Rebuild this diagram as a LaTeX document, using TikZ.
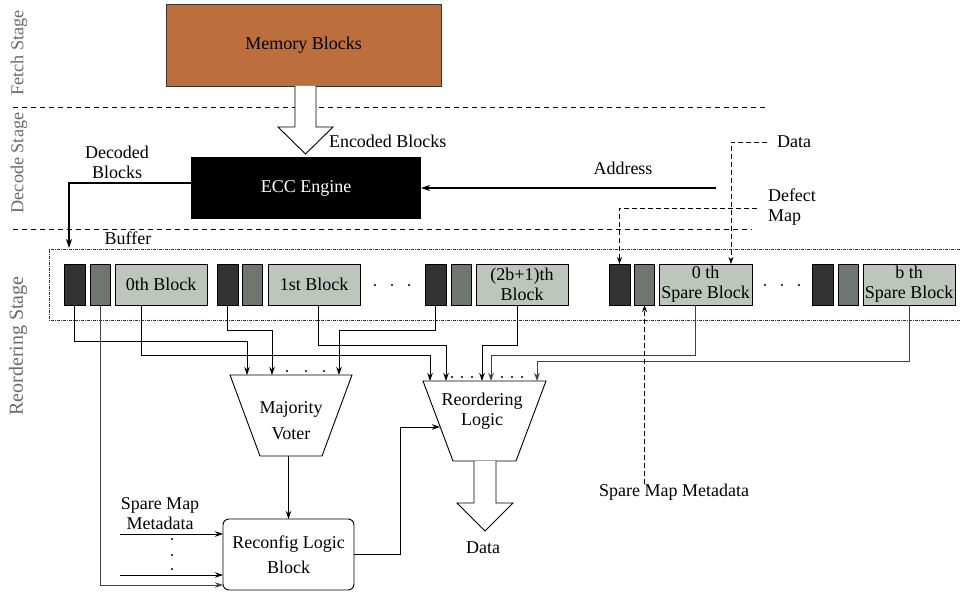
\documentclass[tikz,border=0pt]{standalone}
\usepackage{fontspec}
\setmainfont{Liberation Serif}
\usetikzlibrary{arrows.meta,calc}
\definecolor{membrown}{HTML}{BC6F3C}
\definecolor{blklight}{HTML}{BEC5BD}
\definecolor{blkgray}{HTML}{6F756F}
\definecolor{blkdark}{HTML}{333333}
\definecolor{stagegray}{HTML}{6A6A6A}
\begin{document}
\begin{tikzpicture}[x=1pt,y=-1pt,
  every node/.style={inner sep=0pt,outer sep=0pt,font=\fontsize{18}{20}\selectfont},
  txt/.style={align=center},
  stagelbl/.style={rotate=90,text=stagegray,font=\fontsize{18.2}{22}\selectfont},
  cellbase/.style={draw=black,line width=0.8pt,minimum height=41pt},
  darkcell/.style={cellbase,fill=blkdark,minimum width=21pt},
  graycell/.style={cellbase,fill=blkgray,minimum width=20pt},
  lightcell/.style={cellbase,fill=blklight,minimum width=92pt,align=center},
  conn/.style={line width=0.9pt,-{Stealth[length=8pt,width=5.5pt]}},
  gconn/.style={conn,draw=black!75},
  thickconn/.style={line width=1.8pt,-{Stealth[length=9pt,width=6pt]}},
  dconn/.style={line width=0.9pt,dash pattern=on 5pt off 3pt,-{Stealth[length=7pt,width=5pt]}},
  stagesep/.style={line width=0.9pt,dash pattern=on 5pt off 4pt},
  bufline/.style={line width=0.8pt,draw=black!80,dash pattern=on 3pt off 1pt on 1pt off 1pt},
  hollow/.style={draw=black,line width=0.9pt,fill=white,line join=miter},
  gate/.style={draw=black,line width=0.9pt,fill=white}]
\useasboundingbox (0,0) rectangle (960,593);

% stage labels and separators
\node[stagelbl] (fetchlbl) at (19,53) {Fetch Stage};
\node[stagelbl] (decodelbl) at (19,163) {Decode Stage};
\node[stagelbl,font=\fontsize{20}{22}\selectfont] (reordlbl) at (18,346) {Reordering Stage};
\coordinate (sepAl) at (13,107); \coordinate (sepAr) at (767,107);
\coordinate (sepBl) at (13,229); \coordinate (sepBr) at (752,229);
\draw[stagesep] (sepAl) -- (sepAr);
\draw[stagesep] (sepBl) -- (sepBr);

% memory and ECC
\node[draw=black!80,line width=0.8pt,fill=membrown,minimum width=275pt,minimum height=82pt] (mem) at (303.5,45) {Memory Blocks};
\node[fill=black,text=white,minimum width=230pt,minimum height=62pt] (ecc) at (306,188) {ECC Engine};
\coordinate (encT) at ([xshift=2pt]mem.south);
\draw[hollow] (encT) ++(-10.5,0) -- ++(0,41) -- ++(-17,0) -- ++(27.5,27) -- ++(27.5,-27) -- ++(-17,0) -- ++(0,-41);
\node[anchor=west] (enc) at (329,141) {Encoded Blocks};

% decoded blocks
\node[txt] (declbl) at (117,162) {Decoded\\Blocks};
\coordinate (buf) at (69,248);
\draw[thickconn] ([yshift=5pt]ecc.west) -| (buf);

% address
\node (addrlbl) at (623,168) {Address};
\coordinate (addr) at (716,188);
\draw[thickconn] (addr) -- (ecc.east);

% buffer
\node (buflbl) at (128,238) {Buffer};
\coordinate (bufTL) at (49,249); \coordinate (bufBL) at (49,320);
\coordinate (bufTR) at (960,249); \coordinate (bufBR) at (960,320);
\draw[bufline] (bufTR) -- (bufTL) -- (bufBL) -- (bufBR);

% cells
\node[darkcell] (d1) at (74.5,284.5) {};
\node[graycell] (g1) at (100,284.5) {};
\node[lightcell] (b0) at (161,284.5) {0th Block};
\node[darkcell] (d2) at (227.5,284.5) {};
\node[graycell] (g2) at (252.5,284.5) {};
\node[lightcell] (b1) at (314,284.5) {1st Block};
\node[darkcell] (d3) at (435.5,284.5) {};
\node[graycell] (g3) at (461,284.5) {};
\node[lightcell] (b2) at (522,284.5) {(2b+1)th\\Block};
\node[darkcell] (d4) at (619.5,284.5) {};
\node[graycell] (g4) at (644.5,284.5) {};
\node[lightcell,minimum width=93pt] (s0) at (705.5,284.5) {0 th\\Spare Block};
\node[darkcell] (d5) at (822.5,284.5) {};
\node[graycell] (g5) at (848,284.5) {};
\node[lightcell,minimum width=92pt] (s1) at (909,284.5) {b th\\Spare Block};
\foreach \x in {375,392,409} \fill (\x,285) circle (1.2pt);
\foreach \x in {765,782,799} \fill (\x,285) circle (1.2pt);

% data and defect map
\node[anchor=west] (datalbl) at (777,142) {Data};
\draw[dconn] ([xshift=-10pt]datalbl.west) -| ([xshift=25.5pt]s0.north);
\node[anchor=west,align=left] (dmlbl) at (768,207.5) {Defect\\Map};
\draw[dconn] ([xshift=-11pt,yshift=-0.5pt]dmlbl.west) -| (d4.north);

% majority voter
\coordinate (mvTL) at (230,375); \coordinate (mvTR) at (352,375);
\coordinate (mvBR) at (322,456); \coordinate (mvBL) at (260,456);
\draw[gate] (mvTL) -- (mvTR) -- (mvBR) -- (mvBL) -- cycle;
\node[txt] (mv) at (291,421) {Majority\\[6pt]Voter};
\coordinate (mvA) at (247,375); \coordinate (mvB) at (272,375); \coordinate (mvC) at (339,375);
\foreach \x in {287,306,324} \fill (\x,371) circle (1.2pt);

% reordering logic
\coordinate (rlTL) at (423,381); \coordinate (rlTR) at (546,381);
\coordinate (rlBR) at (516,461); \coordinate (rlBL) at (453,461);
\draw[gate] (rlTL) -- (rlTR) -- (rlBR) -- (rlBL) -- cycle;
\node[txt] (rl) at (482,411) {Reordering\\Logic};
\coordinate (rlA) at (430,381); \coordinate (rlB) at (446,381); \coordinate (rlC) at (482,381);
\coordinate (rlD) at (491,381); \coordinate (rlE) at (537,381); \coordinate (rlL) at (440,427);
\foreach \x in {452,462,472,502,512,522} \fill (\x,377) circle (1.1pt);

% connectors from cells
\draw[conn] (d1.south) -- ++(0,36) -| (mvA);
\draw[conn] ([xshift=-20pt]b0.south) -- ++(0,50) -| (rlA);
\draw[conn] (d2.south) -- ++(0,25) -| (mvB);
\draw[conn] ([xshift=4pt]b1.south) -- ++(0,40) -| (rlB);
\draw[conn] (d3.south) -- ++(0,25) -| (mvC);
\draw[conn] ([xshift=-5pt]b2.south) -- ++(0,40) -| (rlC);
\draw[gconn] ([xshift=-10.5pt]s0.south) -- ++(0,50) -| (rlD);
\draw[gconn] (s1.south) -- ++(0,56) -| (rlE);

% spare map metadata (right)
\node (smmlbl) at (674,492) {Spare Map Metadata};
\draw[dconn] (g4.south |- smmlbl.north) -- (g4.south);

% reconfig logic
\node[draw=black,line width=0.9pt,rounded corners=6pt,minimum width=131pt,minimum height=71pt,align=center] (rc) at (288.5,554.5) {Reconfig Logic\\[5pt]Block};
\draw[conn] (rc.north |- mvBL) -- (rc.north);
\draw[gconn] (g1.south) |- ([yshift=5pt]rc.south west);
\node[txt] (smm2lbl) at (160,513.5) {Spare Map\\Metadata};
\coordinate (sm1) at (120,534); \coordinate (sm2) at (120,575);
\draw[conn] (sm1) -- (sm1 -| rc.west);
\draw[conn] (sm2) -- (sm2 -| rc.west);
\foreach \y in {539,555,569} \fill (172,\y) circle (1.2pt);
\draw[conn] (rc.east) -- ++(46,0) |- (rlL);

% data output
\coordinate (dataT) at (485,461);
\draw[hollow] (dataT) ++(-11,0) -- ++(0,42) -- ++(-17,0) -- ++(28,28) -- ++(28,-28) -- ++(-17,0) -- ++(0,-42);
\node (dataout) at (483,548) {Data};
\end{tikzpicture}
\end{document}
